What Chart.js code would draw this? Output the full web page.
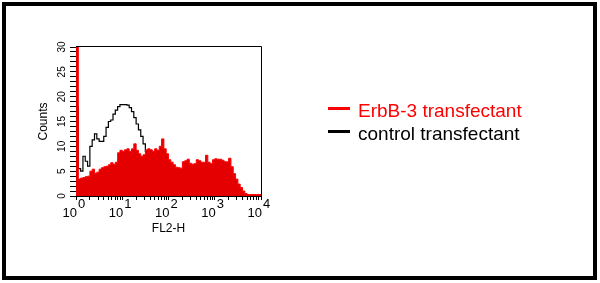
<!DOCTYPE html>
<html>
<head>
<meta charset="utf-8">
<script src="https://cdn.jsdelivr.net/npm/chart.js@4.4.1/dist/chart.umd.min.js"></script>
<style>
  html, body { margin: 0; padding: 0; background: #fff; }
  #wrap { position: relative; width: 600px; height: 283px; overflow: hidden; }
  #frame { position: absolute; left: 2px; top: 2px; width: 587px; height: 270px; border: 4px solid #000; pointer-events: none; }
  canvas { position: absolute; left: 0; top: 0; }
  #legend { position: absolute; left: 328px; top: 99px; margin: 0; padding: 0; list-style: none;
            font: 19px "Liberation Sans", Arial, sans-serif; }
  #legend li { height: 23px; line-height: 23px; white-space: nowrap; display: flex; align-items: center; }
  #legend .mark { display: inline-block; width: 22px; height: 3px; margin-right: 8px; transform: translateY(-2px); }
</style>
</head>
<body>
<div id="wrap">
  <canvas id="ChartFacs" width="600" height="283"></canvas>
  <ul id="legend"></ul>
  <div id="frame"></div>
</div>
<script>
(function () {
  "use strict";

  // Histogram bins: 0.05 decade wide, from 10^0 to 10^4 (FL2-H)
  const binWidth = 0.05;
  const xDecades = [0, 1, 2, 3, 4];
  const countTicks = [0, 5, 10, 15, 20, 25, 30];

  const erbb3Counts = [
    31, 3.4, 3.6, 3.7, 3.9, 4.0, 5.0, 5.4, 4.6, 4.8,
    5.4, 5.7, 5.9, 6.0, 6.3, 6.7, 6.4, 6.8, 8.7, 9.2,
    9.0, 9.3, 9.5, 9.0, 9.5, 10.5, 9.2, 8.5, 8.0, 8.3,
    9.3, 9.5, 9.3, 9.0, 9.5, 9.2, 10.0, 11.5, 9.5, 8.5,
    7.3, 6.8, 6.3, 5.8, 5.7, 5.6, 6.9, 7.1, 7.4, 6.6,
    6.4, 6.5, 7.3, 7.1, 6.8, 6.8, 8.2, 6.8, 6.5, 7.3,
    7.5, 7.4, 7.4, 7.2, 6.9, 6.9, 7.6, 5.9, 4.5, 3.4,
    2.4, 1.7, 1.0, 0.5, 0.3, 0.3, 0.3, 0.3, 0.3, 0.3
  ];

  const controlCounts = [
    18, 5.5, 5.0, 8.0, 7.0, 6.0, 10.0, 11.3, 12.5, 11.5,
    11.0, 11.0, 12.0, 13.8, 15.0, 15.3, 16.5, 17.3, 18.0, 18.4,
    18.4, 18.4, 18.3, 17.8, 17.0, 15.8, 14.5, 13.3, 12.0, 10.5,
    9.0, 7.5, 6.5, 5.5, 4.8, 4.2, 3.6, 3.1, 2.6, 2.2,
    1.9, 1.6, 1.3, 1.1, 0.9, 0.7, 0.6, 0.5, 0.4, 0.3,
    0.3, 0.2, 0.2, 0.2, 0.2, 0.2, 0.2, 0.2, 0.2, 0.2,
    0.2, 0.2, 0.2, 0.2, 0.2, 0.2, 0.2, 0.1, 0.1, 0.1,
    0.1, 0.1, 0.1, 0, 0, 0, 0, 0, 0, 0
  ];

  const erbb3Red   = '#ff0000';
  const erbb3Fill  = 'rgb(228, 0, 0)';
  const black      = '#000000';
  const fontFamily = '"Liberation Sans", Arial, sans-serif';
  const narrowFont = '"Liberation Sans Narrow", "Arial Narrow", "Liberation Sans", Arial, sans-serif';

  // left edge of every bin, plus the closing edge at 10^4
  function toSteps(counts) {
    const pts = counts.map((c, i) => ({ x: Math.pow(10, i * binWidth), y: c }));
    pts.push({ x: Math.pow(10, counts.length * binWidth), y: counts[counts.length - 1] });
    return pts;
  }

  // frame round the plot area (top / right sides show, left is under the spike)
  const plotBox = {
    id: 'plotBox',
    beforeDatasetsDraw(chart) {
      const { ctx, chartArea: a } = chart;
      ctx.save();
      ctx.strokeStyle = black;
      ctx.lineWidth = 1;
      ctx.beginPath();
      ctx.moveTo(a.left, a.top - 0.5);
      ctx.lineTo(a.right + 0.5, a.top - 0.5);
      ctx.lineTo(a.right + 0.5, a.bottom);
      ctx.stroke();
      ctx.restore();
    }
  };

  // 10^n labels under the log axis
  const decadeLabels = {
    id: 'decadeLabels',
    afterDraw(chart) {
      const { ctx, chartArea } = chart;
      const x = chart.scales.x;
      ctx.save();
      ctx.fillStyle = black;
      ctx.font = '13px ' + narrowFont;
      ctx.textBaseline = 'alphabetic';
      xDecades.forEach(d => {
        const px = x.getPixelForValue(Math.pow(10, d));
        ctx.textAlign = 'right';
        ctx.fillText('10', px + 1, chartArea.bottom + 21);
        ctx.textAlign = 'left';
        ctx.fillText(String(d), px + 2, chartArea.bottom + 12);
      });
      ctx.restore();
    }
  };

  // legend as html, to the right of the plot
  const htmlLegend = {
    id: 'htmlLegend',
    afterUpdate(chart) {
      const ul = document.getElementById('legend');
      ul.innerHTML = '';
      const items = chart.options.plugins.legend.labels.generateLabels(chart);
      items.forEach(item => {
        const li = document.createElement('li');
        const mark = document.createElement('span');
        mark.className = 'mark';
        mark.style.background = item.strokeStyle;
        const text = document.createElement('span');
        text.style.color = item.strokeStyle;
        text.textContent = item.text;
        li.appendChild(mark);
        li.appendChild(text);
        ul.appendChild(li);
      });
    }
  };

  const chart_facs = document.getElementById('ChartFacs');
  if (chart_facs != null) {
    const ctx = chart_facs.getContext('2d');
    new Chart(ctx, {
      type: 'line',
      data: {
        datasets: [{
          label: 'ErbB-3 transfectant',
          data: toSteps(erbb3Counts),
          stepped: 'before',
          fill: 'origin',
          backgroundColor: erbb3Fill,
          borderColor: erbb3Red,
          borderWidth: 1,
          pointRadius: 0,
          tension: 0
        },
        {
          label: 'control transfectant',
          data: toSteps(controlCounts),
          stepped: 'before',
          fill: false,
          borderColor: black,
          borderWidth: 1.2,
          pointRadius: 0,
          tension: 0
        }]
      },
      options: {
        responsive: false,
        animation: false,
        events: [],
        layout: {
          padding: { top: 47, right: 339, bottom: 0, left: 0 }
        },
        scales: {
          x: {
            type: 'logarithmic',
            min: 1,
            max: 10000,
            afterBuildTicks: (scale) => {
              const ticks = [];
              xDecades.slice(0, -1).forEach(d => {
                for (let k = 1; k < 10; k++) ticks.push({ value: k * Math.pow(10, d) });
              });
              ticks.push({ value: Math.pow(10, xDecades[xDecades.length - 1]) });
              scale.ticks = ticks;
            },
            afterFit: (scale) => { scale.height = 87; },
            ticks: {
              autoSkip: false,
              maxRotation: 0,
              callback: () => ''
            },
            grid: {
              drawOnChartArea: false,
              drawTicks: true,
              tickLength: 4,
              tickColor: black
            },
            border: { display: true, color: black, width: 1 },
            title: {
              display: true,
              text: 'FL2-H',
              color: black,
              font: { family: fontFamily, size: 12 },
              padding: { top: 0, bottom: 47 }
            }
          },
          y: {
            min: 0,
            max: 30,
            afterFit: (scale) => { scale.width = 76; },
            ticks: {
              stepSize: 1,
              autoSkip: false,
              minRotation: 90,
              maxRotation: 90,
              crossAlign: 'center',
              padding: 2,
              color: black,
              font: { family: fontFamily, size: 10 },
              callback: (value) => countTicks.includes(value) ? String(value) : ''
            },
            grid: {
              drawOnChartArea: false,
              drawTicks: true,
              tickLength: 6,
              tickColor: black
            },
            border: { display: true, color: black, width: 1 },
            title: {
              display: true,
              text: 'Counts',
              color: black,
              font: { family: fontFamily, size: 12 },
              padding: { top: 36, bottom: 0 }
            }
          }
        },
        plugins: {
          legend: { display: false },
          tooltip: { enabled: false }
        }
      },
      plugins: [plotBox, decadeLabels, htmlLegend]
    });
  }
})();
</script>
</body>
</html>
